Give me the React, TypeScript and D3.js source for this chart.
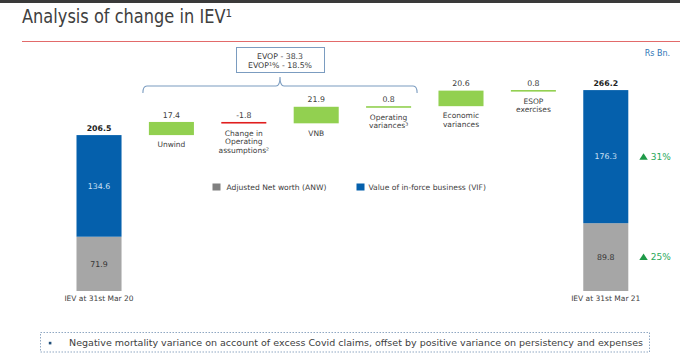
import React from 'react';
import * as d3 from 'd3';

const W = 680;
const H = 360;

// categories along the waterfall (label lines)
const categories = [
  'IEV at 31st Mar 20',
  'Unwind',
  'Change in Operating assumptions',
  'VNB',
  'Operating variances',
  'Economic variances',
  'ESOP exercises',
  'IEV at 31st Mar 21',
];
const labelLines: string[][] = [
  ['IEV at 31st Mar 20'],
  ['Unwind'],
  ['Change in', 'Operating', 'assumptions²'],
  ['VNB'],
  ['Operating', 'variances³'],
  ['Economic', 'variances'],
  ['ESOP', 'exercises'],
  ['IEV at 31st Mar 21'],
];

// movements between the two totals
const deltas = [17.4, -1.8, 21.9, 0.8, 20.6, 0.8];
const deltaLabels = ['17.4', '-1.8', '21.9', '0.8', '20.6', '0.8'];

// stacked totals
const anw = [71.9, 89.8];
const vif = [134.6, 176.3];
const totals = [206.5, 266.2];
const growth = ['31%', '25%']; // VIF, ANW

const evopLines = ['EVOP - 38.3', 'EVOP¹% - 18.5%'];
const footnote =
  'Negative mortality variance on account of excess Covid claims, offset by positive variance on persistency and expenses';

const C = {
  vif: '#0560ac',
  anw: '#a6a6a6',
  anwLegend: '#808080',
  up: '#92d050',
  down: '#e01e1e',
  text: '#404040',
  brace: '#7b9cc0',
  green: '#2aa85a',
};

const FONT = "'DejaVu Sans', Verdana, sans-serif";

export default function App() {
  const x = d3.scaleBand<string>().domain(categories).range([76.5, 628.3]).paddingInner(0.378).paddingOuter(0);
  const y = d3.scaleLinear().domain([0, 270]).range([291, 87.15]);
  const bw = x.bandwidth();

  // waterfall steps
  let cum = totals[0];
  const steps = deltas.map((d, i) => {
    const start = cum;
    const end = cum + d;
    cum = end;
    const lo = Math.min(start, end);
    const hi = Math.max(start, end);
    const top = y(hi);
    const h = Math.max(1.6, y(lo) - y(hi));
    return { cat: categories[i + 1], d, top, bottom: top + h, h, label: deltaLabels[i], lines: labelLines[i + 1] };
  });

  const totalIdx = [0, categories.length - 1];

  // brace over EVOP components (Unwind .. Operating variances)
  const bx0 = (x(categories[1]) ?? 0) - 6;
  const bx1 = (x(categories[4]) ?? 0) + bw + 6;
  const bmid = (bx0 + bx1) / 2;
  const by = 86;
  const braceLine = d3.path();
  braceLine.moveTo(bx0, by + 7);
  braceLine.quadraticCurveTo(bx0, by, bx0 + 4, by);
  braceLine.lineTo(bmid - 4, by);
  braceLine.quadraticCurveTo(bmid, by, bmid, by - 9);
  braceLine.quadraticCurveTo(bmid, by, bmid + 4, by);
  braceLine.lineTo(bx1 - 4, by);
  braceLine.quadraticCurveTo(bx1, by, bx1, by + 7);

  return (
    <svg width={W} height={H} style={{ position: 'absolute', left: 0, top: 0 }} fontFamily={FONT}>
      <rect x={0} y={0} width={W} height={H} fill="#fff" />
      <rect x={0} y={0} width={W} height={3} fill="#3a3a3a" />

      {/* title */}
      <text x={22} y={23} fontSize={19} fill={C.text} textLength={210} lengthAdjust="spacingAndGlyphs">
        Analysis of change in IEV¹
      </text>
      <line x1={22} x2={W} y1={41.5} y2={41.5} stroke="#e26a6a" strokeWidth={1.1} />
      <text x={670} y={55.5} fontSize={8} fill="#2e75b6" textAnchor="end">Rs Bn.</text>

      {/* EVOP box + brace */}
      <rect x={bmid - 43.5} y={47.5} width={88} height={25} fill="#fff" stroke={C.brace} strokeWidth={1} />
      {evopLines.map((t, i) => (
        <text key={t} x={bmid} y={58.8 + i * 9} fontSize={7.8} fill={C.text} textAnchor="middle">{t}</text>
      ))}
      <path d={braceLine.toString()} fill="none" stroke={C.brace} strokeWidth={1.1} />

      {/* total bars */}
      {totalIdx.map((ci, k) => {
        const x0 = x(categories[ci]) ?? 0;
        const cx = x0 + bw / 2;
        const yA = y(anw[k]);
        const yT = y(anw[k] + vif[k]);
        return (
          <g key={ci}>
            <rect x={x0} y={yA} width={bw} height={y(0) - yA} fill={C.anw} />
            <rect x={x0} y={yT} width={bw} height={yA - yT} fill={C.vif} />
            <text x={cx} y={yT - 4.5} fontSize={7.8} fontWeight="bold" fill="#222" textAnchor="middle">
              {totals[k].toFixed(1)}
            </text>
            <text x={cx} y={(yT + yA) / 2 + 2.7} fontSize={7.8} fill="#cfe1f5" textAnchor="middle">
              {vif[k].toFixed(1)}
            </text>
            <text x={cx} y={(yA + y(0)) / 2 + 2.7} fontSize={7.8} fill="#333" textAnchor="middle">
              {anw[k].toFixed(1)}
            </text>
            <text x={cx} y={y(0) + 9.8} fontSize={7.5} fill={C.text} textAnchor="middle">
              {labelLines[ci][0]}
            </text>
          </g>
        );
      })}

      {/* growth markers on the closing bar */}
      {[y(anw[1] + vif[1] / 2), y(anw[1] / 2)].map((cy, i) => {
        const tx = (x(categories[7]) ?? 0) + bw + 11;
        return (
          <g key={i}>
            <path d={`M${tx},${cy + 3} L${tx + 8.5},${cy + 3} L${tx + 4.25},${cy - 3.5} Z`} fill="#1f9a48" />
            <text x={tx + 11.5} y={cy + 3.3} fontSize={9} fill={C.green}>{growth[i]}</text>
          </g>
        );
      })}

      {/* waterfall steps */}
      {steps.map((s) => {
        const x0 = x(s.cat) ?? 0;
        const cx = x0 + bw / 2;
        return (
          <g key={s.cat}>
            <rect x={x0} y={s.top} width={bw} height={s.h} fill={s.d < 0 ? C.down : C.up} />
            <text x={cx} y={s.top - 4.4} fontSize={7.8} fill={C.text} textAnchor="middle">{s.label}</text>
            {s.lines.map((t, j) => (
              <text key={t} x={cx} y={s.bottom + 12.2 + j * 8.4} fontSize={7.5} fill={C.text} textAnchor="middle">
                {t}
              </text>
            ))}
          </g>
        );
      })}

      {/* legend */}
      <rect x={212.5} y={183.5} width={8} height={7} fill={C.anwLegend} />
      <text x={226.5} y={189.7} fontSize={7.6} fill={C.text}>Adjusted Net worth (ANW)</text>
      <rect x={356.5} y={183.5} width={8} height={7} fill={C.vif} />
      <text x={368.5} y={189.7} fontSize={7.6} fill={C.text}>Value of in-force business (VIF)</text>

      {/* footnote */}
      <rect x={40.5} y={332.5} width={609} height={19.5} fill="none" stroke="#8fa7c2" strokeWidth={1} strokeDasharray="1.5 1.5" />
      <rect x={48.8} y={341.8} width={2.6} height={2.6} fill="#1f4e79" />
      <text x={69} y={346.2} fontSize={9} fill={C.text} textLength={574} lengthAdjust="spacingAndGlyphs">
        {footnote}
      </text>
    </svg>
  );
}
